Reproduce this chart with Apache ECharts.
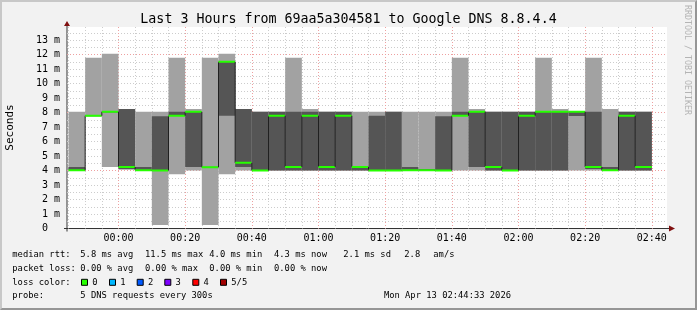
<!DOCTYPE html>
<html><head><meta charset="utf-8">
<script src="https://cdn.jsdelivr.net/npm/echarts@6/dist/echarts.min.js"></script>
<style>
html,body{margin:0;padding:0;background:#f2f2f2;}
#frame{position:absolute;left:0;top:0;width:697px;height:310px;box-sizing:border-box;border-top:2px solid #c8c8c8;border-left:2px solid #c8c8c8;border-right:2px solid #969696;border-bottom:2px solid #969696;}
#chart{position:absolute;left:0;top:0;width:697px;height:310px;}
</style></head><body><div id="frame"></div><div id="chart"></div>
<script>
// ---- data ----
const titleText = "Last 3 Hours from 69aa5a304581 to Google DNS 8.8.4.4";
const axisStart = "23:44:33";
const axisEnd = "02:44:33";
const binTimes = ["23:45","23:50","23:55","00:00","00:05","00:10","00:15","00:20","00:25","00:30","00:35","00:40","00:45","00:50","00:55","01:00","01:05","01:10","01:15","01:20","01:25","01:30","01:35","01:40","01:45","01:50","01:55","02:00","02:05","02:10","02:15","02:20","02:25","02:30","02:35"];
const binMinutes = 5;
const pingMin    = [4.0,7.75,4.25,4.05,4.0,0.25,3.75,4.0,0.25,3.75,4.0,4.0,4.0,4.0,4.0,4.0,4.0,4.0,4.0,4.0,4.0,4.0,4.0,4.0,4.0,4.0,4.0,4.0,4.0,4.0,4.0,4.0,4.0,4.0,4.0];
const pingLow    = [4.0,7.75,8.0,4.1,4.0,4.0,7.76,4.25,4.2,7.77,4.25,4.0,4.0,4.0,4.0,4.0,4.0,4.0,4.0,4.0,4.0,4.0,4.0,7.76,4.25,4.0,4.0,4.0,4.0,4.0,7.76,4.1,4.0,4.0,4.0];
const pingMedian = [4.02,7.78,8.05,4.25,4.02,4.0,7.78,8.05,4.22,11.5,4.53,4.0,7.78,4.25,7.78,4.25,7.78,4.25,4.0,4.0,4.02,4.02,4.0,7.78,8.05,4.25,4.0,7.78,8.05,8.05,8.05,4.25,4.02,7.78,4.25];
const pingHigh   = [4.25,7.82,8.1,8.24,4.25,7.75,8.05,8.05,4.26,11.5,8.24,8.05,8.05,8.05,8.05,8.05,8.05,4.3,7.78,8.05,4.25,4.1,7.75,8.05,8.05,8.05,8.05,8.05,8.05,8.05,8.05,8.05,4.25,8.05,8.05];
const pingMax    = [8.05,11.78,12.05,8.24,8.05,8.05,11.78,8.24,11.78,12.05,8.24,8.05,8.05,11.78,8.24,8.05,8.05,8.05,8.05,8.05,8.05,8.05,8.05,11.78,8.24,8.05,8.05,8.05,11.78,8.24,8.05,11.78,8.24,8.05,8.05];
const xTickLabels = ["00:00","00:20","00:40","01:00","01:20","01:40","02:00","02:20","02:40"];
const yTickValues = [0,1,2,3,4,5,6,7,8,9,10,11,12,13];
const yUnit = "m";
const yMax = 13.9;
const legendRows = [
  ["median rtt:", "5.8 ms avg", "11.5 ms max", "4.0 ms min", "4.3 ms now", "2.1 ms sd", "2.8", "am/s"],
  ["packet loss:", "0.00 % avg", "0.00 % max", "0.00 % min", "0.00 % now"]
];
const lossLabels = ["0","1","2","3","4","5/5"];
const lossColors = ["#26ff00","#00b8ff","#0059ff","#7e00ff","#ff0000","#a10000"];
const probeText = "5 DNS requests every 300s";
const stampText = "Mon Apr 13 02:44:33 2026";

// ---- helpers ----
function toMin(s){const p=s.split(':').map(Number);let m=p[0]*60+p[1]+(p[2]||0)/60;if(p[0]>=12)m-=1440;return m;}
const xMin = toMin(axisStart), xMax = toMin(axisEnd);
const xTickValues = xTickLabels.map(toMin);
const minorX = [];
for (let t=Math.ceil(xMin/binMinutes)*binMinutes; t<=xMax; t+=binMinutes) minorX.push(t);

const seriesData = binTimes.map((t,i)=>{
  const t0=toMin(t);
  return [t0, t0+binMinutes, pingMin[i], pingLow[i], pingMedian[i], pingHigh[i], pingMax[i], i>0?pingMedian[i-1]:pingMedian[i]];
});

const LIGHT="#a2a2a2", DARK="#555555", GREEN=lossColors[0];
function renderItem(params, api){
  const t0=api.value(0), t1=api.value(1);
  const lo=api.value(2), p2=api.value(3), med=api.value(4), p4=api.value(5), hi=api.value(6), prev=api.value(7);
  const a=api.coord([t0,lo]), b=api.coord([t1,hi]);
  const c=api.coord([t0,p2]), d=api.coord([t1,p4]);
  const m0=api.coord([t0,med]), m1=api.coord([t1,med]), pv=api.coord([t0,prev]);
  const ch=[
    {type:'rect',shape:{x:a[0],y:b[1],width:b[0]-a[0],height:a[1]-b[1]},style:{fill:LIGHT}},
    {type:'rect',shape:{x:c[0],y:d[1],width:d[0]-c[0],height:c[1]-d[1]},style:{fill:DARK}},
    {type:'line',shape:{x1:m0[0],y1:pv[1],x2:m0[0],y2:m0[1]},style:{stroke:'#202020',lineWidth:1}},
    {type:'rect',shape:{x:m0[0],y:m0[1]-1,width:m1[0]-m0[0],height:2},style:{fill:GREEN}}
  ];
  return {type:'group',children:ch};
}

// ---- layout ----
const W=697,H=310, GL=67, GT=27, GR=30, GB=81.5;
const FONT='"DejaVu Sans Mono", monospace';
const MINOR='#cccccc', MAJOR='#eea0a0', ARROW='#801010', AXIS='#333333';
const LFS=8.8;

const graphics=[];
const plotR=W-GR, plotB=H-GB;
graphics.push({type:'polygon',shape:{points:[[GL-3,GT-1],[GL+3,GT-1],[GL,GT-6]]},style:{fill:ARROW},silent:true});
graphics.push({type:'polygon',shape:{points:[[plotR+2,plotB-3],[plotR+2,plotB+3],[plotR+8,plotB]]},style:{fill:ARROW},silent:true});
graphics.push({type:'line',shape:{x1:GL-3,y1:plotB,x2:plotR+2,y2:plotB},style:{stroke:AXIS,lineWidth:1},silent:true});
graphics.push({type:'line',shape:{x1:GL,y1:plotB+3,x2:GL,y2:GT-1},style:{stroke:AXIS,lineWidth:1},silent:true});
graphics.push({type:'text',x:10,y:127.5,rotation:Math.PI/2,style:{text:'Seconds',font:'11px '+FONT,fill:'#000',align:'center',verticalAlign:'middle'}});
graphics.push({type:'text',x:687.5,y:60,rotation:-Math.PI/2,style:{text:'RRDTOOL / TOBI OETIKER',font:'8.3px '+FONT,fill:'#b4b4b4',align:'center',verticalAlign:'middle'}});
const rowY=[255,268.3,282.3,296];
const colX=[12.3,80.3,145,209.3,274,343.3,404.3,433.3];
legendRows.forEach((row,r)=>row.forEach((txt,k)=>{
  graphics.push({type:'text',x:colX[k],y:rowY[r],style:{text:txt,font:LFS+'px '+FONT,fill:'#000',align:'left',verticalAlign:'middle'}});
}));
graphics.push({type:'text',x:12.3,y:rowY[2],style:{text:'loss color:',font:LFS+'px '+FONT,fill:'#000',align:'left',verticalAlign:'middle'}});
const boxX=[81,109,136.7,164.3,192.3,220];
lossLabels.forEach((lab,k)=>{
  graphics.push({type:'rect',shape:{x:boxX[k]+0.5,y:rowY[2]-3,width:6,height:6},style:{fill:lossColors[k],stroke:'#000',lineWidth:1}});
  graphics.push({type:'text',x:boxX[k]+11.3,y:rowY[2],style:{text:lab,font:LFS+'px '+FONT,fill:'#000',align:'left',verticalAlign:'middle'}});
});
graphics.push({type:'text',x:12.3,y:rowY[3],style:{text:'probe:',font:LFS+'px '+FONT,fill:'#000',align:'left',verticalAlign:'middle'}});
graphics.push({type:'text',x:80.3,y:rowY[3],style:{text:probeText,font:LFS+'px '+FONT,fill:'#000',align:'left',verticalAlign:'middle'}});
graphics.push({type:'text',x:511,y:rowY[3],style:{text:stampText,font:LFS+'px '+FONT,fill:'#000',align:'right',verticalAlign:'middle'}});
graphics.push({type:'text',x:348.5,y:19.5,style:{text:titleText,font:'13.3px '+FONT,fill:'#000',align:'center',verticalAlign:'middle'}});

const chart=echarts.init(document.getElementById('chart'),null,{renderer:'canvas'});
chart.setOption({
  animation:false,
  backgroundColor:'transparent',
  grid:{left:GL,top:GT,right:GR,bottom:GB,containLabel:false,outerBoundsMode:'none',show:true,backgroundColor:'#ffffff',borderWidth:0},
  xAxis:[
    {type:'value',min:xMin,max:xMax,position:'top',axisLine:{show:false},axisLabel:{show:false},
     axisTick:{show:false,customValues:minorX},
     splitLine:{show:true,lineStyle:{color:MINOR,type:[1,2],width:1}}},
    {type:'value',min:xMin,max:xMax,position:'bottom',axisLine:{show:false},
     axisTick:{show:false,customValues:xTickValues},
     axisLabel:{show:true,customValues:xTickValues,margin:5,formatter:v=>{const i=xTickValues.findIndex(x=>Math.abs(x-v)<1e-6);return i>=0?xTickLabels[i]:'';},
       fontFamily:FONT,fontSize:10,color:'#000',lineHeight:10},
     splitLine:{show:true,lineStyle:{color:MAJOR,type:[1,2],width:1}}}
  ],
  yAxis:[
    {type:'value',min:0,max:yMax,interval:0.5,position:'left',axisLine:{show:false},axisTick:{show:false},
     axisLabel:{show:true,customValues:yTickValues,margin:7,formatter:v=>v===0?'0  ':(v+' '+yUnit),fontFamily:FONT,fontSize:10,color:'#000'},
     splitLine:{show:true,showMaxLine:false,showMinLine:false,lineStyle:{color:MINOR,type:[1,2],width:1}}},
    {type:'value',min:0,max:yMax,interval:4,position:'right',axisLine:{show:false},axisTick:{show:false},axisLabel:{show:false},
     splitLine:{show:true,showMaxLine:false,showMinLine:false,lineStyle:{color:MAJOR,type:[1,2],width:1}}}
  ],
  series:[{type:'custom',xAxisIndex:1,yAxisIndex:0,renderItem:renderItem,data:seriesData,encode:{x:[0,1],y:[2,6]},clip:true,silent:true}],
  graphic:graphics
});
</script></body></html>
